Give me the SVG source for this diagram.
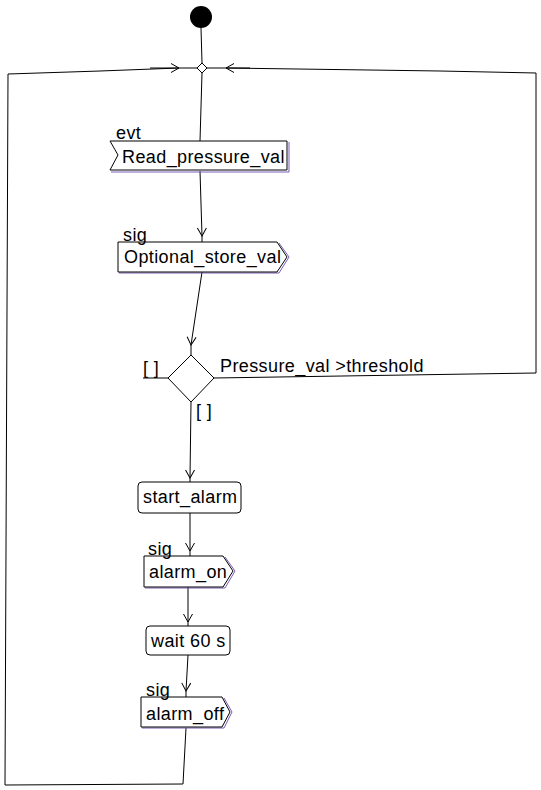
<svg xmlns="http://www.w3.org/2000/svg" width="541" height="790" viewBox="0 0 541 790">
<style>
text{font-family:"Liberation Sans",Arial,sans-serif;font-size:18px;fill:#000;letter-spacing:0.4px}
.n{fill:#fff;stroke:#000;stroke-width:1}
.sh{fill:none;stroke:#7a5cb8;stroke-width:1}
.c{fill:none;stroke:#000;stroke-width:1}
.a{fill:none;stroke:#000;stroke-width:1;marker-mid:url(#v)}
</style>
<defs>
<marker id="v" markerUnits="userSpaceOnUse" markerWidth="12" markerHeight="12" viewBox="-10 -6 12 12" refX="0" refY="0" orient="auto" overflow="visible">
<path d="M-8,-4.5 L0,0 L-8,4.5" fill="none" stroke="#000" stroke-width="1"/>
</marker>
</defs>
<rect width="541" height="790" fill="#fff"/>
<g id="connectors">
<path class="c" d="M201,28 L202,63"/>
<path class="c" d="M202,73 L200,141"/>
<path class="a" d="M200,171 L202,236 L202,242"/>
<path class="a" d="M202,272 L191,345 L191,355"/>
<path class="a" d="M191,402 L190,478 L190,482"/>
<path class="a" d="M190,513 L190,551 L190,556"/>
<path class="a" d="M188,587 L188,622 L188,626"/>
<path class="a" d="M188,655 L186,691 L186,697"/>
<path class="c" d="M186,728 L183,784 L5,785 L8,74 L100,71 L179,68"/>
<path class="a" d="M150,68 L179,68 L197,68"/>
<path class="c" d="M214,378 L536,373 L536,73 L440,71 L226,68"/>
<path class="a" d="M250,68 L226,68 L207,68"/>
<path class="c" d="M143,378 L168,378"/>
</g>
<g id="start">
<circle cx="201" cy="17" r="11" fill="#000"/>
</g>
<g id="merge">
<polygon class="n" points="202,63 207,68 202,73 197,68"/>
</g>
<g id="read_pressure_val">
<polyline class="sh" points="289,142 289,172 111,172"/>
<polygon class="n" points="110,141 287,141 287,170 110,170 118,155"/>
<text x="116" y="139">evt</text>
<text x="122" y="163">Read_pressure_val</text>
</g>
<g id="optional_store_val">
<polyline class="sh" points="279,243 289,257 279,273 119,273"/>
<polygon class="n" points="118,242 277,242 287,257 277,272 118,272"/>
<text x="123" y="241">sig</text>
<text x="124" y="263">Optional_store_val</text>
</g>
<g id="decision">
<polygon class="n" points="191,355 214,378 191,402 168,378"/>
<text x="143" y="374">[ ]</text>
<text x="220" y="372">Pressure_val &gt;threshold</text>
<text x="196" y="417">[ ]</text>
</g>
<g id="start_alarm">
<rect class="n" x="138" y="482" width="103" height="31" rx="4"/>
<text x="143" y="503">start_alarm</text>
</g>
<g id="alarm_on">
<polyline class="sh" points="225,557 235,571 225,588 145,588"/>
<polygon class="n" points="144,556 223,556 233,571 223,587 144,587"/>
<text x="148" y="555">sig</text>
<text x="149" y="578">alarm_on</text>
</g>
<g id="wait_60_s">
<rect class="n" x="146" y="626" width="84" height="29" rx="4"/>
<text x="151" y="647">wait 60 s</text>
</g>
<g id="alarm_off">
<polyline class="sh" points="224,698 232,712 224,728 142,728"/>
<polygon class="n" points="141,697 222,697 230,712 222,727 141,727"/>
<text x="146" y="696">sig</text>
<text x="146" y="720">alarm_off</text>
</g>
</svg>
